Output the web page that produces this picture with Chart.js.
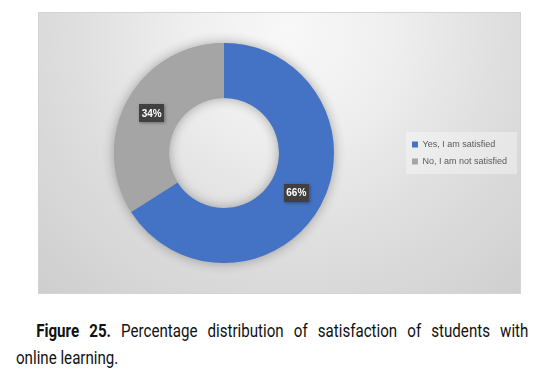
<!DOCTYPE html>
<html>
<head>
<meta charset="utf-8">
<script src="https://cdn.jsdelivr.net/npm/chart.js@4.4.1/dist/chart.umd.min.js"></script>
<style>
    body { margin: 0; background: #fff; width: 549px; height: 373px; position: relative; overflow: hidden; }
    #frame {
        position: absolute; left: 38px; top: 12px; width: 481px; height: 280px;
        border: 1px solid #d4d4d4;
        background: radial-gradient(circle farthest-corner at 52% 6%, #f8f8f8 0%, #efefef 28%, #dedede 60%, #cecece 100%);
    }
    #caption {
        position: absolute; left: 16px; top: 317px; width: 610px;
        transform: scaleX(0.84); transform-origin: 0 0;
        font-family: Roboto, "Liberation Sans", sans-serif;
        font-size: 18px; line-height: 27px; color: #111;
    }
    #caption .l1 { display: block; text-indent: 24px; text-align: justify; text-align-last: justify; }
</style>
</head>
<body>
<div id="frame"><canvas id="satisfactionChart"></canvas></div>
<div id="caption"><span class="l1"><b>Figure 25.</b> Percentage distribution of satisfaction of students with</span>online learning.</div>
<script>
// DATA

const categories = ["Yes, I am satisfied", "No, I am not satisfied"];
const shares = [66, 34];
const sliceColors = ["#4472C4", "#A5A5A5"];

// RING SHADOW (drawn once under both slices)

const ringShadow = {
    id: "ringShadow",
    beforeDatasetsDraw(chart) {
        const arc = chart.getDatasetMeta(0).data[0];
        if (!arc) return;
        const { x, y, outerRadius, innerRadius } = arc.getProps(["x", "y", "outerRadius", "innerRadius"], true);
        const ctx = chart.ctx;
        ctx.save();
        ctx.shadowColor = "rgba(0, 0, 0, 0.32)";
        ctx.shadowBlur = 12;
        ctx.fillStyle = "#a5a5a5";
        ctx.beginPath();
        ctx.arc(x, y, outerRadius, 0, Math.PI * 2);
        ctx.arc(x, y, innerRadius, 0, Math.PI * 2, true);
        ctx.fill();
        ctx.restore();
    }
};

// LEGEND BACKGROUND

const legendPanel = {
    id: "legendPanel",
    beforeDraw(chart) {
        const boxes = chart.legend && chart.legend.legendHitBoxes;
        if (!boxes || !boxes.length) return;
        const first = boxes[0];
        const last = boxes[boxes.length - 1];
        const ctx = chart.ctx;
        ctx.save();
        ctx.fillStyle = "rgba(255, 255, 255, 0.35)";
        ctx.fillRect(first.left - 6, first.top - 8, chart.width - 3 - (first.left - 6), last.top + last.height + 8 - (first.top - 8));
        ctx.restore();
    }
};

// SLICE LABELS

const sliceLabels = {
    id: "sliceLabels",
    afterDatasetsDraw(chart) {
        const ctx = chart.ctx;
        chart.getDatasetMeta(0).data.forEach((arc, i) => {
            const p = arc.tooltipPosition(true);
            const w = 25, h = 18;
            ctx.save();
            ctx.shadowColor = "rgba(0, 0, 0, 0.35)";
            ctx.shadowBlur = 3;
            ctx.shadowOffsetX = 1;
            ctx.shadowOffsetY = 1;
            ctx.fillStyle = "#404040";
            ctx.fillRect(Math.round(p.x - w / 2), Math.round(p.y - h / 2), w, h);
            ctx.shadowColor = "transparent";
            ctx.fillStyle = "#ffffff";
            ctx.font = "bold 10px 'Liberation Sans'";
            ctx.textAlign = "center";
            ctx.textBaseline = "middle";
            ctx.fillText(shares[i] + "%", p.x, p.y + 0.5);
            ctx.restore();
        });
    }
};

// CHART

new Chart(document.getElementById("satisfactionChart"), {
    type: "doughnut",
    data: {
        labels: categories,
        datasets: [{
            data: shares,
            backgroundColor: sliceColors,
            borderWidth: 0
        }]
    },
    options: {
        responsive: true,
        maintainAspectRatio: false,
        animation: false,
        cutout: "50%",
        layout: { padding: { left: 5, right: 3, top: 30, bottom: 30 } },
        plugins: {
            tooltip: { enabled: false },
            legend: {
                position: "right",
                labels: {
                    boxWidth: 6,
                    boxHeight: 6,
                    padding: 8,
                    color: "#595959",
                    font: { family: "Liberation Sans", size: 9 }
                }
            }
        }
    },
    plugins: [legendPanel, ringShadow, sliceLabels]
});
</script>
</body>
</html>
